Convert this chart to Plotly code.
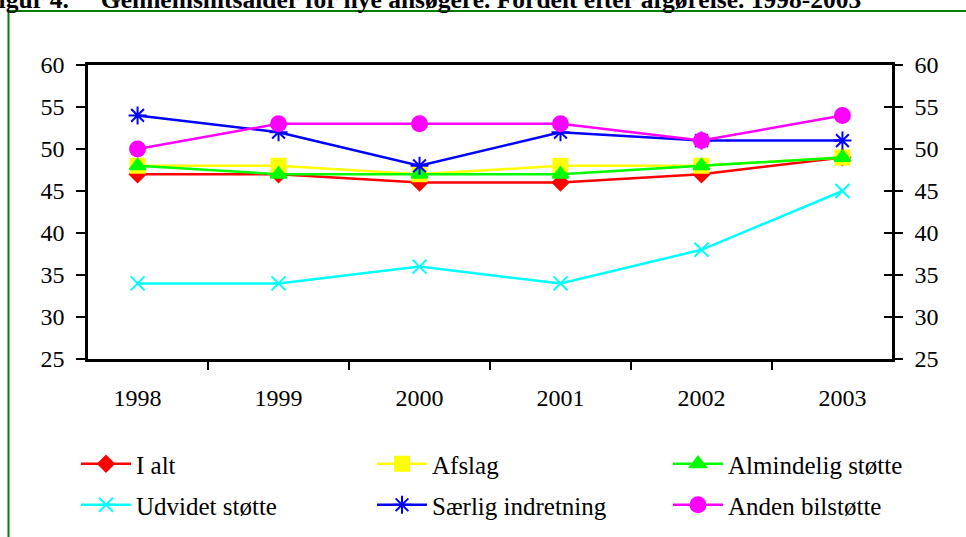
import plotly.graph_objects as go

years = ["1998", "1999", "2000", "2001", "2002", "2003"]
i_alt = [47, 47, 46, 46, 47, 49]
afslag = [48, 48, 47, 48, 48, 49]
almindelig = [48, 47, 47, 47, 48, 49]
udvidet = [34, 34, 36, 34, 38, 45]
saerlig = [54, 52, 48, 52, 51, 51]
anden = [50, 53, 53, 53, 51, 54]

names = ["I alt", "Afslag", "Almindelig støtte", "Udvidet støtte", "Særlig indretning", "Anden bilstøtte"]
series = [i_alt, afslag, almindelig, udvidet, saerlig, anden]
colors = ["#FF0000", "#FFFF00", "#00FF00", "#00FFFF", "#0000FF", "#FF00FF"]
symbols = ["diamond", "square", "triangle-up", "x-thin-open", "asterisk-open", "circle"]
sizes = [12, 14, 14, 14, 15, 15]
legend_ids = ["legend", "legend2", "legend3", "legend4", "legend5", "legend6"]
legend_pos = [(80, 464), (376, 464), (672, 464), (80, 505), (376, 505), (672, 505)]

W, H = 966, 537
L, R, T, B = 88, 892, 65, 359
PW, PH = R - L, B - T

def px(x):
    return (x - L) / PW

def py(y):
    return (B - y) / PH

fig = go.Figure()
for n, s, c, sym, sz, lg in zip(names, series, colors, symbols, sizes, legend_ids):
    fig.add_trace(go.Scatter(
        x=years, y=s, name=n, mode="lines+markers",
        line=dict(color=c, width=2.5),
        marker=dict(symbol=sym, size=sz, color=c, line=dict(color=c, width=2)),
        legend=lg,
    ))

tick_font = dict(family="Liberation Serif", size=24, color="#000000")
leg_font = dict(family="Liberation Serif", size=25, color="#000000")

layout_legends = {}
for lg, (lx, ly) in zip(legend_ids, legend_pos):
    layout_legends[lg] = dict(orientation="h", x=px(lx - 4), y=py(ly), xanchor="left",
                              yanchor="middle", itemwidth=50, font=leg_font,
                              bgcolor="rgba(0,0,0,0)", borderwidth=0)

fig.update_layout(
    width=W, height=H,
    margin=dict(l=L, r=W - R, t=T, b=H - B, autoexpand=False),
    paper_bgcolor="white", plot_bgcolor="white",
    font=tick_font,
    showlegend=True,
    xaxis=dict(type="category", tickson="boundaries", ticks="outside", ticklen=8,
               tickwidth=2, tickcolor="black", showline=True, linecolor="black",
               linewidth=2.5, mirror=True, showgrid=False, tickfont=tick_font,
               ticklabelstandoff=15),
    yaxis=dict(range=[25, 60], dtick=5, ticks="outside", ticklen=9, tickwidth=2,
               tickcolor="black", showline=True, linecolor="black", linewidth=2.5,
               showgrid=False, zeroline=False, tickfont=tick_font, ticklabelstandoff=7),
    yaxis2=dict(range=[25, 60], dtick=5, overlaying="y", side="right", ticks="outside",
                ticklen=8, tickwidth=2, tickcolor="black", showline=True,
                linecolor="black", linewidth=2.5, showgrid=False, zeroline=False,
                tickfont=tick_font, ticklabelstandoff=7),
    yaxis3=dict(range=[25, 60], dtick=5, overlaying="y", side="right", ticks="inside",
                ticklen=8, tickwidth=2, tickcolor="black", showline=False,
                showticklabels=False, showgrid=False, zeroline=False),
    **layout_legends,
)

# invisible traces to activate right axes
fig.add_trace(go.Scatter(x=years, y=anden, yaxis="y2", mode="none", showlegend=False, hoverinfo="skip"))
fig.add_trace(go.Scatter(x=years, y=anden, yaxis="y3", mode="none", showlegend=False, hoverinfo="skip"))

fig.add_shape(type="rect", xref="paper", yref="paper",
              x0=px(8.5), x1=px(1000), y0=py(600), y1=py(11),
              line=dict(color="#008000", width=2), fillcolor="rgba(0,0,0,0)", layer="below")

fig.add_annotation(text="<b>Figur 4.     Gennemsnitsalder for nye ansøgere. Fordelt efter afgørelse. 1998-2003</b>",
                   xref="paper", yref="paper", x=px(863), y=py(16.5), xanchor="right", yanchor="bottom",
                   showarrow=False, font=dict(family="Liberation Serif", size=25.5, color="black"))

fig.write_html("out.html", config={"displayModeBar": False},
               post_script="document.body.style.margin='0';")
